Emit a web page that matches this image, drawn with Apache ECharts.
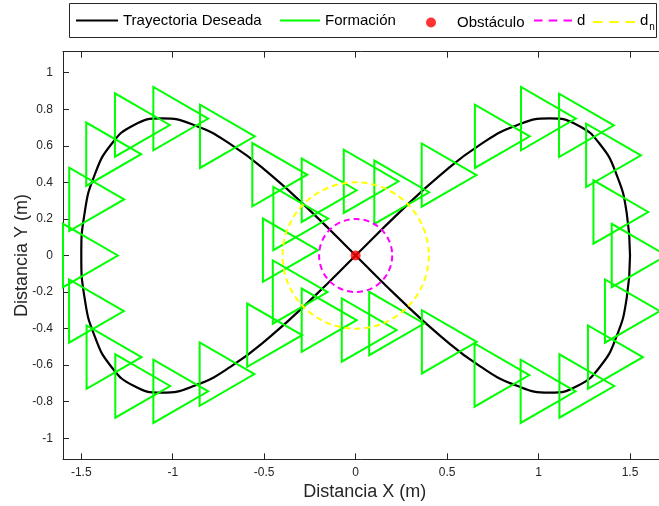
<!DOCTYPE html>
<html>
<head>
<meta charset="utf-8">
<script src="https://cdn.jsdelivr.net/npm/echarts@6/dist/echarts.min.js"></script>
<style>html,body{margin:0;padding:0;background:#fff;}#chart{width:659px;height:506px;}</style>
</head>
<body>
<div id="chart"></div>
<script>
// ---- data ----
const xTicks = [-1.5, -1, -0.5, 0, 0.5, 1, 1.5];
const yTicks = [-1, -0.8, -0.6, -0.4, -0.2, 0, 0.2, 0.4, 0.6, 0.8, 1];

// desired trajectory (figure-eight)
const trajectory = [
  [1.5, 0], [1.482, -0.232], [1.427, -0.441], [1.337, -0.607], [1.214, -0.713],
  [1.061, -0.75], [0.882, -0.713], [0.681, -0.607], [0.464, -0.441], [0.235, -0.232],
  [0, 0], [-0.235, 0.232], [-0.464, 0.441], [-0.681, 0.607], [-0.882, 0.713],
  [-1.061, 0.75], [-1.214, 0.713], [-1.337, 0.607], [-1.427, 0.441], [-1.482, 0.232],
  [-1.5, 0], [-1.482, -0.232], [-1.427, -0.441], [-1.337, -0.607], [-1.214, -0.713],
  [-1.061, -0.75], [-0.882, -0.713], [-0.681, -0.607], [-0.464, -0.441], [-0.235, -0.232],
  [0, 0], [0.235, 0.232], [0.464, 0.441], [0.681, 0.607], [0.882, 0.713],
  [1.061, 0.75], [1.214, 0.713], [1.337, 0.607], [1.427, 0.441], [1.482, 0.232], [1.5, 0]
];

// formation centroids (one triangle each)
const formation = [
  [-1.50, 0.00], [-1.466, 0.307], [-1.373, 0.554], [-1.216, 0.714], [-1.006, 0.749],
  [-0.751, 0.652], [-0.465, 0.442],
  [-1.467, -0.304], [-1.371, -0.556], [-1.214, -0.714], [-1.006, -0.743],
  [-0.753, -0.649], [-0.493, -0.436],
  [0.461, 0.44], [0.752, 0.652], [1.004, 0.749], [1.212, 0.712], [1.36, 0.548],
  [1.40, 0.238], [1.50, 0.00],
  [1.463, -0.304], [1.37, -0.556], [1.214, -0.714], [1.002, -0.743], [0.75, -0.654],
  [0.462, -0.472],
  [-0.195, 0.357], [0.035, 0.406], [0.202, 0.346], [-0.35, 0.202], [-0.407, 0.029],
  [-0.353, -0.2], [-0.195, -0.354], [0.024, -0.408], [0.174, -0.372]
];

const obstacle = [[0, 0]];
const dCircle = [[0, 0, 0.2]];
const dnCircle = [[0, 0, 0.4]];

// ---- drawing ----
const FORMATION_R = 0.2; // circumradius of the triangle formation
const AX = '#262626';
const FONT = 'Liberation Sans, Arial, Helvetica, sans-serif';

function triangleItem(params, api) {
  const x = api.value(0), y = api.value(1);
  const h = FORMATION_R * Math.sqrt(3) / 2;
  const pts = [
    api.coord([x + FORMATION_R, y]),
    api.coord([x - FORMATION_R / 2, y + h]),
    api.coord([x - FORMATION_R / 2, y - h])
  ];
  return {type: 'polygon', shape: {points: pts},
    style: {fill: 'none', stroke: '#00ff00', lineWidth: 2, lineJoin: 'miter'}};
}
function circleMaker(color) {
  return function (params, api) {
    const c = api.coord([api.value(0), api.value(1)]);
    const s = api.size([api.value(2), api.value(2)]);
    return {type: 'circle', shape: {cx: c[0], cy: c[1], r: (s[0] + s[1]) / 2},
      style: {fill: 'none', stroke: color, lineWidth: 2, lineDash: [6, 4]}};
  };
}

const chart = echarts.init(document.getElementById('chart'), null, {renderer: 'canvas'});

const dashIcon = 'path://M0,0h9v2h-9z M15.5,0h9v2h-9z M31,0h9v2h-9z';
const lineIcon = 'path://M0,0h40v2h-40z';
const dotIcon = 'path://M0,5a5,5 0 1,0 10,0a5,5 0 1,0 -10,0z';
const legendText = {fontFamily: FONT, fontSize: 15, color: '#000',
  rich: {a: {fontFamily: FONT, fontSize: 15, color: '#000', padding: [0, 0, 3, 0]},
         b: {fontFamily: FONT, fontSize: 10, color: '#000', padding: [10, 0, 0, 1]}}};
function lg(name, left, icon, w, h) {
  return {data: [{name: name, icon: icon}], left: left, top: 20 - h / 2, itemWidth: w, itemHeight: h,
    padding: 0, itemGap: 0, selectedMode: false, textStyle: legendText,
    formatter: function (n) { return n === 'dn' ? '{a|d}{b|n}' : n; }};
}

chart.setOption({
  animation: false,
  backgroundColor: '#fff',
  graphic: [{type: 'rect', z: 0, shape: {x: 69.5, y: 3.5, width: 587, height: 34},
    style: {fill: '#fff', stroke: AX, lineWidth: 1}}],
  legend: [
    lg('Trayectoria Deseada', 76, lineIcon, 42, 14),
    lg('Formación', 280, lineIcon, 40, 14),
    lg('Obstáculo', 426, dotIcon, 42, 10),
    lg('d', 534, dashIcon, 38, 14),
    lg('dn', 593, dashIcon, 42, 14)
  ],
  grid: {left: 63, top: 51.7, width: 603.6, height: 407.6, outerBoundsMode: 'none', containLabel: false},
  xAxis: [{
    type: 'value', min: -1.6, max: 1.7, position: 'bottom',
    name: 'Distancia X (m)', nameLocation: 'middle', nameGap: 24, nameMoveOverlap: false,
    nameTextStyle: {fontFamily: FONT, fontSize: 18, color: AX},
    axisLine: {show: true, onZero: false, lineStyle: {color: AX, width: 1}},
    axisTick: {show: true, inside: true, length: 6, customValues: xTicks, lineStyle: {color: AX}},
    axisLabel: {show: true, customValues: xTicks, margin: 7, fontFamily: FONT, fontSize: 12, color: AX},
    splitLine: {show: false}
  }, {
    type: 'value', min: -1.6, max: 1.7, position: 'top',
    axisLine: {show: true, onZero: false, lineStyle: {color: AX, width: 1}},
    axisTick: {show: true, inside: true, length: 6, customValues: xTicks, lineStyle: {color: AX}},
    axisLabel: {show: false}, splitLine: {show: false}
  }],
  yAxis: [{
    type: 'value', min: -1.115, max: 1.115, position: 'left',
    name: 'Distancia Y (m)', nameLocation: 'middle', nameGap: 32, nameRotate: 90, nameMoveOverlap: false,
    nameTextStyle: {fontFamily: FONT, fontSize: 18, color: AX},
    axisLine: {show: true, onZero: false, lineStyle: {color: AX, width: 1}},
    axisTick: {show: true, inside: true, length: 6, customValues: yTicks, lineStyle: {color: AX}},
    axisLabel: {show: true, customValues: yTicks, margin: 10, fontFamily: FONT, fontSize: 12, color: AX},
    splitLine: {show: false}
  }],
  series: [
    {name: 'Trayectoria Deseada', type: 'line', data: trajectory, smooth: 0.5,
      symbol: 'none', color: '#000', itemStyle: {color: '#000'}, lineStyle: {color: '#000', width: 2.2}, z: 2},
    {name: 'Formación', type: 'custom', data: formation, renderItem: triangleItem,
      itemStyle: {color: '#00ff00'}, color: '#00ff00', z: 3},
    {name: 'Obstáculo', type: 'scatter', data: obstacle, symbol: 'circle', symbolSize: 10,
      itemStyle: {color: '#ff0000'}, color: '#ff0000', z: 6},
    {name: 'd', type: 'custom', data: dCircle, renderItem: circleMaker('#ff00ff'),
      itemStyle: {color: '#ff00ff'}, color: '#ff00ff', z: 4},
    {name: 'dn', type: 'custom', data: dnCircle, renderItem: circleMaker('#ffff00'),
      itemStyle: {color: '#ffff00'}, color: '#ffff00', z: 4}
  ]
});
</script>
</body>
</html>
